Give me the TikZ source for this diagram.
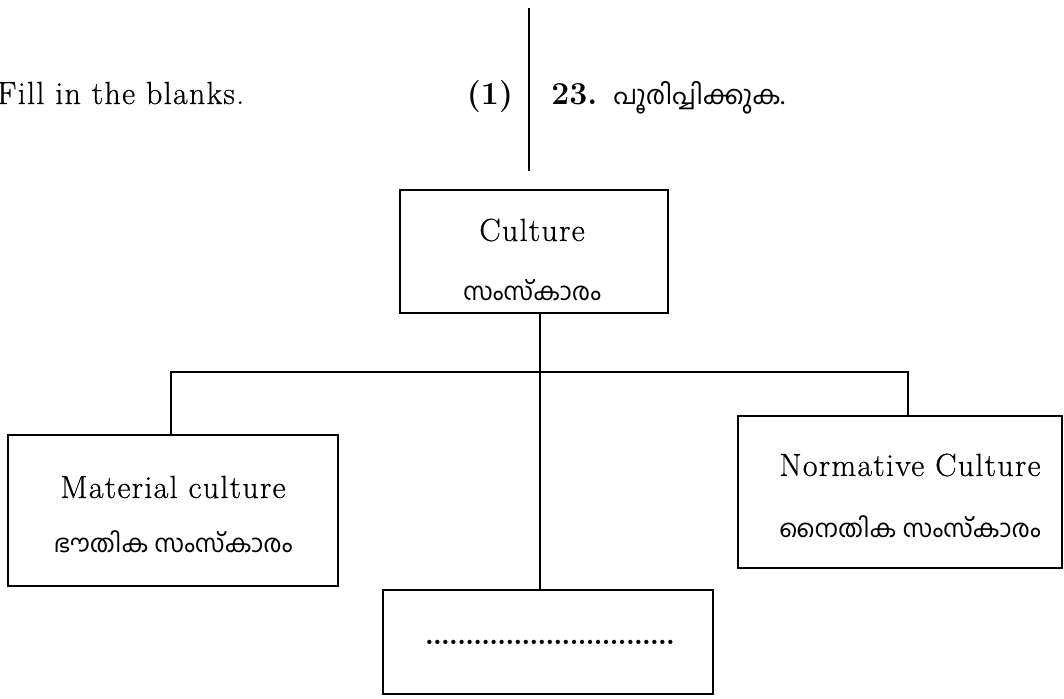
\documentclass[tikz,border=0pt]{standalone}
\usepackage{fontspec}
\newfontfamily\mal[Script=Malayalam]{Hind Kochi}
\newfontfamily\enfont{Latin Modern Roman}[LetterSpace=4,FakeBold=0.6]
\begin{document}
\begin{tikzpicture}[x=0.75pt,y=-0.75pt,
  box/.style={draw,line width=1.5pt,inner sep=0pt},
  conn/.style={line width=1.5pt},
  en/.style={inner sep=0pt,font=\enfont\fontsize{24}{28}\selectfont},
  enb/.style={inner sep=0pt,font=\fontsize{24}{28}\selectfont\bfseries},
  ml/.style={inner sep=0pt,font=\mal\fontsize{18.5}{22}\selectfont}]
\useasboundingbox (0,0) rectangle (1064,699);
% header
\node[en,anchor=base west] (fill) at (-3,104) {Fill in the blanks.};
\node[enb,anchor=base] (one) at (490,104) {(1)};
\coordinate (divT) at (529,8);
\coordinate (divB) at (529,171);
\draw[conn] (divT) -- (divB);
\node[enb,anchor=base west] (q) at (551,104) {23.};
\node[ml,anchor=base west,font=\mal\fontsize{19.5}{22}\selectfont] (qml) at (613,104) {പൂരിപ്പിക്കുക.};
% boxes
\node[box,minimum width=268*0.75pt,minimum height=123*0.75pt] (culture) at (534,251) {};
\node[en] (cultureT) at (532,230) {Culture};
\node[ml] (cultureM) at (532,290) {സംസ്കാരം};
\node[box,minimum width=330*0.75pt,minimum height=151*0.75pt] (material) at (173,510) {};
\node[en] (materialT) at (173,487) {Material culture};
\node[ml] (materialM) at (173,542) {ഭൗതിക സംസ്കാരം};
\node[box,minimum width=324*0.75pt,minimum height=152*0.75pt] (normative) at (900,492) {};
\node[en] (normativeT) at (910,465) {Normative Culture};
\node[ml] (normativeM) at (910,527) {നൈതിക സംസ്കാരം};
\node[box,minimum width=330*0.75pt,minimum height=104*0.75pt] (blank) at (548,642) {};
\node[inner sep=0pt,font=\fontsize{22}{24}\selectfont\bfseries] (dots) at (550,642) {\hbox to 187pt{\xleaders\hbox to 5.85pt{\hss.\hss}\hfill}};
% connectors
\coordinate (mid) at (540,372);
\coordinate (lj) at (171,372);
\coordinate (rj) at (908,372);
\draw[conn] (mid |- culture.south) -- (mid |- blank.north);
\draw[conn] (lj |- material.north) -- (lj) -- (rj) -- (rj |- normative.north);
\end{tikzpicture}
\end{document}
